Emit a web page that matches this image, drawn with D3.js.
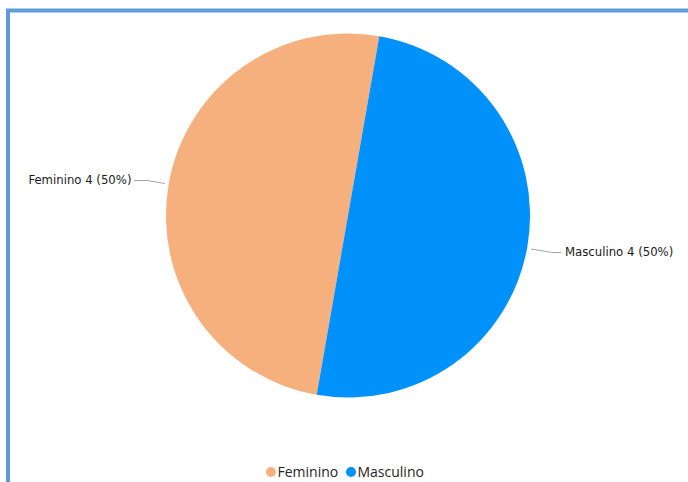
<!DOCTYPE html>
<html>
<head>
<meta charset="utf-8">
<script src="https://cdn.jsdelivr.net/npm/d3@7"></script>
<style>
  html, body { margin: 0; padding: 0; background: #fff; }
  svg { display: block; }
</style>
</head>
<body>
<svg id="chart" width="688" height="482"></svg>
<script>
// Gender split
const categories = ["Feminino", "Masculino"];
const values = [4, 4];
const colors = ["#F6B07D", "#0091FA"];

const svg = d3.select("#chart");
const W = 688, H = 482;

// Card frame (left and top edges)
svg.append("path")
  .attr("d", `M8,${H} L8,10.5 L${W},10.5`)
  .attr("fill", "none")
  .attr("stroke", "#5E9DD8")
  .attr("stroke-width", 4);

const cx = 348, cy = 215.5, R = 182;
const rot = 9.9 * Math.PI / 180;

const data = categories.map((c, i) => ({ cat: c, value: values[i], color: colors[i] }));
const total = d3.sum(values);

const pie = d3.pie()
  .sort(null)
  .value(d => d.value)
  .startAngle(Math.PI + rot)
  .endAngle(3 * Math.PI + rot);

const arcs = pie(data);
const arc = d3.arc().innerRadius(0).outerRadius(R);

const g = svg.append("g").attr("transform", `translate(${cx},${cy})`);

g.selectAll("path.slice")
  .data(arcs)
  .join("path")
  .attr("class", "slice")
  .attr("d", arc)
  .attr("fill", d => d.data.color);

// Leader lines and labels
const labelPos = {
  "Feminino": { edge: [165 - cx, 183.5 - cy], knee: [147 - cx, 180.5 - cy], end: [134 - cx, 180.5 - cy], anchor: "end", tx: 131.5 - cx },
  "Masculino": { edge: [531 - cx, 249 - cy], knee: [552 - cx, 252.5 - cy], end: [561 - cx, 252.5 - cy], anchor: "start", tx: 565 - cx }
};

arcs.forEach(a => {
  const p = labelPos[a.data.cat];
  g.append("polyline")
    .attr("points", [p.edge, p.knee, p.end].map(q => q.join(",")).join(" "))
    .attr("fill", "none")
    .attr("stroke", "#A6A6A6")
    .attr("stroke-width", 1);
  const pct = d3.format(".0%")(a.data.value / total);
  g.append("text")
    .attr("x", p.tx)
    .attr("y", p.end[1] - 1)
    .attr("dy", "0.35em")
    .attr("text-anchor", p.anchor)
    .attr("font-family", "'DejaVu Sans Condensed', 'DejaVu Sans', sans-serif")
    .attr("font-size", 13)
    .attr("fill", "#1A1A1A")
    .text(`${a.data.cat} ${a.data.value} (${pct})`);
});

// Legend
const legend = svg.append("g").attr("transform", "translate(0,472)");
const legendItems = [
  { cat: categories[0], color: colors[0], x: 271 },
  { cat: categories[1], color: colors[1], x: 351 }
];
legendItems.forEach(it => {
  legend.append("circle")
    .attr("cx", it.x).attr("cy", 0).attr("r", 5)
    .attr("fill", it.color);
  legend.append("text")
    .attr("x", it.x + 6.5)
    .attr("y", 0)
    .attr("dy", "0.36em")
    .attr("font-family", "'Open Sans', 'Noto Sans', sans-serif")
    .attr("font-size", 14)
    .attr("fill", "#252423")
    .text(it.cat);
});
</script>
</body>
</html>
